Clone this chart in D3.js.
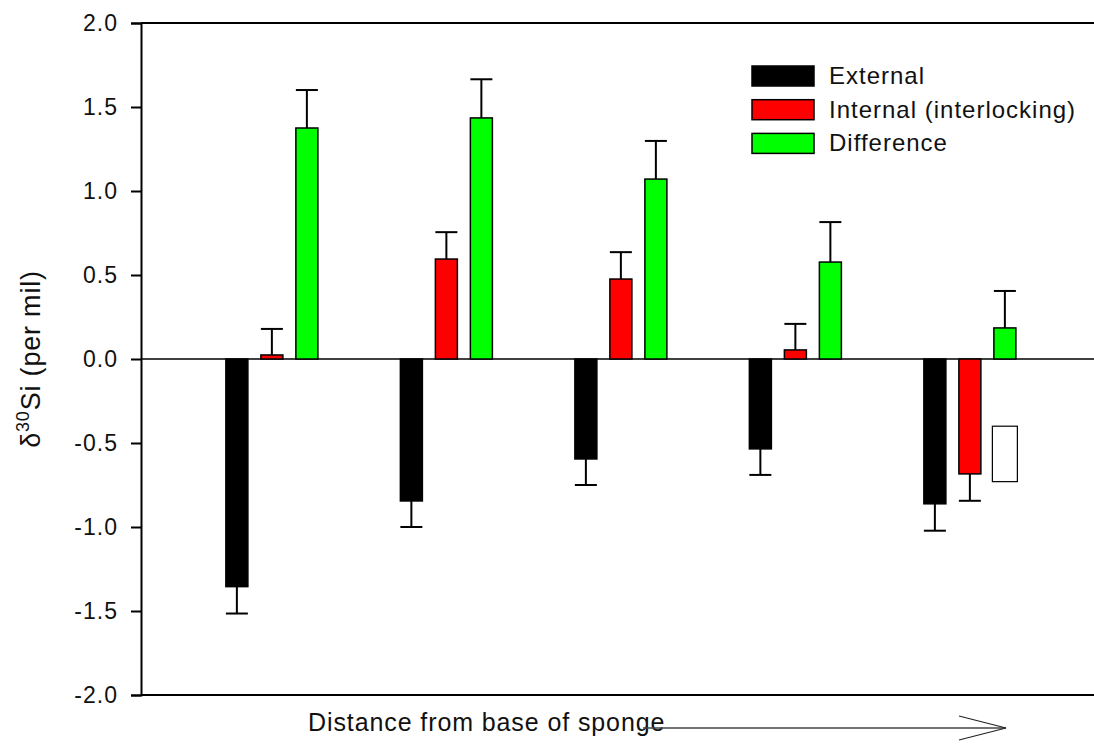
<!DOCTYPE html>
<html>
<head>
<meta charset="utf-8">
<script src="https://cdn.jsdelivr.net/npm/d3@7"></script>
<style>
  body { margin: 0; background: #fff; }
  text { font-family: "Liberation Sans", Arial, sans-serif; fill: #111; }
</style>
</head>
<body>
<script>
// groups along the sponge (base -> tip)
const groups = [1, 2, 3, 4, 5]

// delta 30Si values (per mil) and error bars
const external = [-1.355, -0.845, -0.595, -0.535, -0.862]
const externalErr = [0.16, 0.155, 0.155, 0.155, 0.16]
const internal = [0.024, 0.595, 0.476, 0.054, -0.684]
const internalErr = [0.155, 0.16, 0.16, 0.155, 0.16]
const difference = [1.375, 1.435, 1.071, 0.577, 0.185]
const differenceErr = [0.226, 0.23, 0.227, 0.238, 0.22]

// empty box drawn in the last group (difference slot)
const emptyBox = { group: 5, lo: -0.73, hi: -0.40 }

const seriesNames = ['External', 'Internal (interlocking)', 'Difference']
const seriesColors = ['#000000', '#ff0000', '#00ff00']
const yTicks = [-2.0, -1.5, -1.0, -0.5, 0.0, 0.5, 1.0, 1.5, 2.0]

const w = 1094
const h = 744
const margin = { top: 23, bottom: 49, left: 141 }

const svg = d3.select('body')
  .append('svg')
  .attr('width', w)
  .attr('height', h)

const yScale = d3.scaleLinear()
  .domain([-2, 2])
  .range([h - margin.bottom, margin.top])

const xScale = d3.scaleLinear()
  .domain([0.25, 6])
  .range([margin.left, margin.left + 5.75 * 174.5])

const barW = 22
const offsets = [-35, 0, 35]

const series = [
  { name: seriesNames[0], values: external, err: externalErr, color: seriesColors[0] },
  { name: seriesNames[1], values: internal, err: internalErr, color: seriesColors[1] },
  { name: seriesNames[2], values: difference, err: differenceErr, color: seriesColors[2] }
]

// frame lines (top and bottom run off the right edge)
svg.append('line')
  .attr('x1', margin.left).attr('x2', w + 5)
  .attr('y1', yScale(2)).attr('y2', yScale(2))
  .style('stroke', '#000').style('stroke-width', 2)

svg.append('line')
  .attr('x1', margin.left).attr('x2', w + 5)
  .attr('y1', yScale(-2)).attr('y2', yScale(-2))
  .style('stroke', '#000').style('stroke-width', 2)

// y axis
const yAxis = d3.axisLeft(yScale)
  .tickValues(yTicks)
  .tickSize(10)
  .tickPadding(13)
  .tickFormat(d => d.toFixed(1))

const yAxisG = svg.append('g')
  .attr('transform', `translate(${margin.left},0)`)
  .call(yAxis)

yAxisG.select('.domain').style('stroke', '#000').style('stroke-width', 2)
yAxisG.selectAll('.tick line').style('stroke', '#000').style('stroke-width', 2)
yAxisG.selectAll('.tick text')
  .style('font-size', '23px')
  .style('letter-spacing', '1px')
  .style('font-family', '"Liberation Sans", Arial, sans-serif')
  .style('fill', '#111')

// zero line
svg.append('line')
  .attr('x1', margin.left).attr('x2', w + 5)
  .attr('y1', yScale(0)).attr('y2', yScale(0))
  .style('stroke', '#000').style('stroke-width', 1.5)

// bars + error bars
series.forEach((s, si) => {
  const g = svg.append('g').attr('class', 'series')
  groups.forEach((grp, i) => {
    const v = s.values[i]
    const cx = xScale(grp) + offsets[si]
    const y0 = yScale(0)
    const y1 = yScale(v)
    const tip = v >= 0 ? v + s.err[i] : v - s.err[i]

    g.append('line')
      .attr('x1', cx).attr('x2', cx)
      .attr('y1', y1).attr('y2', yScale(tip))
      .style('stroke', '#000').style('stroke-width', 2)
    g.append('line')
      .attr('x1', cx - barW / 2).attr('x2', cx + barW / 2)
      .attr('y1', yScale(tip)).attr('y2', yScale(tip))
      .style('stroke', '#000').style('stroke-width', 2)

    g.append('rect')
      .attr('x', cx - barW / 2)
      .attr('y', Math.min(y0, y1))
      .attr('width', barW)
      .attr('height', Math.abs(y1 - y0))
      .style('fill', s.color)
      .style('stroke', '#000')
      .style('stroke-width', 1.5)
  })
})

// empty box
svg.append('rect')
  .attr('x', xScale(emptyBox.group) + offsets[2] - 12.5)
  .attr('y', yScale(emptyBox.hi))
  .attr('width', 25)
  .attr('height', yScale(emptyBox.lo) - yScale(emptyBox.hi))
  .style('fill', '#fff')
  .style('stroke', '#000')
  .style('stroke-width', 1.2)

// legend
const legend = svg.append('g').attr('transform', 'translate(752,66)')
series.forEach((s, i) => {
  legend.append('rect')
    .attr('x', 0).attr('y', i * 33.7)
    .attr('width', 62).attr('height', 20)
    .style('fill', s.color)
    .style('stroke', '#000')
    .style('stroke-width', 1.5)
  legend.append('text')
    .attr('x', 77).attr('y', i * 33.7 + 18)
    .style('font-size', '24px')
    .style('letter-spacing', '1px')
    .text(s.name)
})

// y label
const yLabel = svg.append('text')
  .attr('transform', `translate(40,${yScale(0)}) rotate(-90)`)
  .attr('text-anchor', 'middle')
  .style('font-size', '27px')
  .style('letter-spacing', '0.8px')
yLabel.append('tspan').text('δ')
yLabel.append('tspan').attr('dy', -11).style('font-size', '18px').text('30')
yLabel.append('tspan').attr('dy', 11).text('Si (per mil)')

// x label + arrow
svg.append('text')
  .attr('x', 308).attr('y', 731)
  .style('font-size', '25px')
  .style('letter-spacing', '0.9px')
  .text('Distance from base of sponge')

svg.append('line')
  .attr('x1', 643).attr('x2', 1006)
  .attr('y1', 728).attr('y2', 728)
  .style('stroke', '#444').style('stroke-width', 1.5)
svg.append('path')
  .attr('d', 'M959,716 L1006,728 L959,740')
  .style('fill', 'none')
  .style('stroke', '#222').style('stroke-width', 1.2)
</script>
</body>
</html>
